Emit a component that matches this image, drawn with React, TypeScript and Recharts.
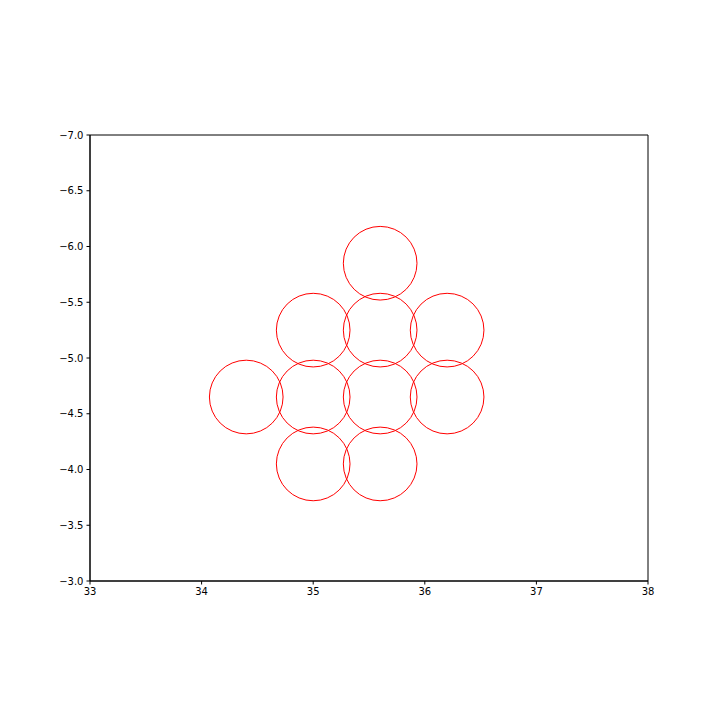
import React from 'react';
import { ScatterChart, Scatter, XAxis, YAxis, ReferenceArea } from 'recharts';

const xTicks = [33, 34, 35, 36, 37, 38];
const yTicks = [-7.0, -6.5, -6.0, -5.5, -5.0, -4.5, -4.0, -3.5, -3.0];
const centersX = [35.6, 35.0, 35.6, 36.2, 34.4, 35.0, 35.6, 36.2, 35.0, 35.6];
const centersY = [-5.85, -5.25, -5.25, -5.25, -4.65, -4.65, -4.65, -4.65, -4.05, -4.05];
const radius = 0.33;

const data = centersX.map((x, i) => ({ x, y: centersY[i] }));

const W = 712;
const H = 712;
const M = { top: 127, right: 72, bottom: 109, left: 22 };
const Y_W = 60;
const X_H = 30;
const plotW = W - M.left - M.right - Y_W;
const pxPerUnit = plotW / (xTicks[xTicks.length - 1] - xTicks[0]);

const fmt = (v: number) => v.toFixed(1).replace('-', '\u2212');

const CircleShape = (props: any) => {
  const { cx, cy } = props;
  return <circle cx={cx} cy={cy} r={radius * pxPerUnit} fill="none" stroke="#ff0000" strokeWidth={1} />;
};

const tickStyle = { fill: '#000', fontSize: 10, fontFamily: 'DejaVu Sans' };

export default function App() {
  return (
    <ScatterChart width={W} height={H} margin={M} style={{ background: '#fff' }}>
      <XAxis
        type="number"
        dataKey="x"
        domain={[33, 38]}
        ticks={xTicks}
        allowDataOverflow
        height={X_H}
        tick={tickStyle}
        tickLine={{ stroke: '#000' }}
        axisLine={{ stroke: '#000' }}
        tickSize={3.5}
        tickMargin={3}
      />
      <YAxis
        type="number"
        dataKey="y"
        domain={[-7, -3]}
        ticks={yTicks}
        reversed
        allowDataOverflow
        width={Y_W}
        tick={tickStyle}
        tickFormatter={fmt}
        tickLine={{ stroke: '#000' }}
        axisLine={{ stroke: '#000' }}
        tickSize={3.5}
        tickMargin={3}
      />
      <ReferenceArea x1={33} x2={38} y1={-7} y2={-3} fill="none" stroke="#000" strokeWidth={1} ifOverflow="extendDomain" />
      <Scatter data={data} shape={CircleShape} isAnimationActive={false} />
    </ScatterChart>
  );
}
